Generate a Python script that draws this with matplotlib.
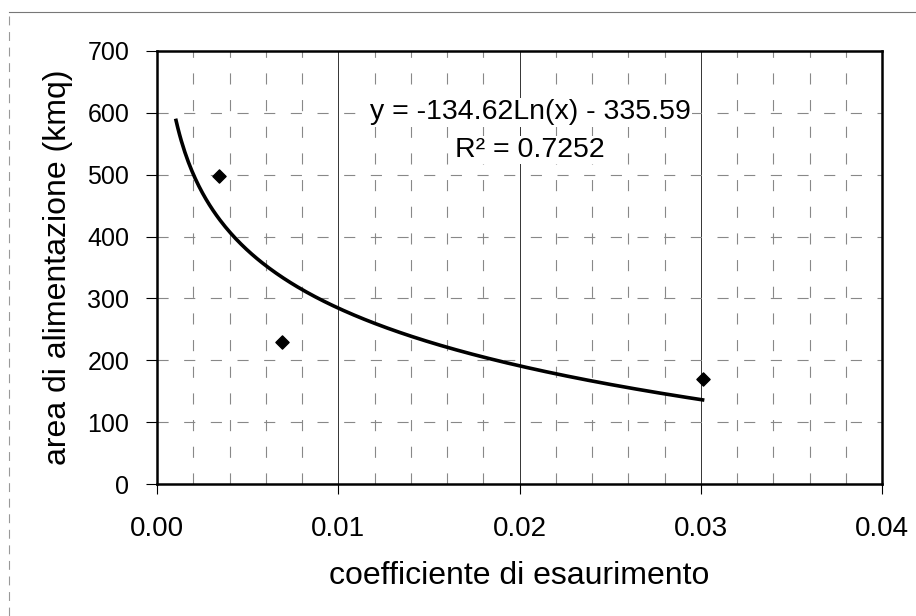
import numpy as np
import matplotlib.pyplot as plt
from matplotlib.lines import Line2D

plt.rcParams['font.family'] = ['Liberation Sans', 'DejaVu Sans']

# data points
coeff = [0.0034, 0.0069, 0.0301]
area = [498, 230, 169]

# trendline from the equation shown on the chart
a_coef, b_coef = -134.62, -335.59
r2 = 0.7252
x_fit_start, x_fit_end = 0.00105, 0.0301

x_ticks = [0.00, 0.01, 0.02, 0.03, 0.04]
y_ticks = [0, 100, 200, 300, 400, 500, 600, 700]

fig = plt.figure(figsize=(9.16, 6.16), dpi=100)
ax = fig.add_axes([157/916, 1 - 484/616, (882-157)/916, (484-51)/616])

ax.set_xlim(0, 0.04)
ax.set_ylim(0, 700)

# grid
for xv in np.arange(0.002, 0.04, 0.002):
    if abs(xv / 0.01 - round(xv / 0.01)) < 1e-6:
        ax.axvline(xv, color='#333333', lw=0.7, zorder=1)
    else:
        ax.axvline(xv, color='#888888', lw=0.8, ls=(0, (10, 14)), zorder=1)
for yv in y_ticks[1:-1]:
    ax.axhline(yv, color='#888888', lw=0.8, ls=(0, (10, 14)), zorder=1)

xs = np.linspace(x_fit_start, x_fit_end, 300)
ax.plot(xs, a_coef * np.log(xs) + b_coef, color='black', lw=2.6, zorder=3)
ax.scatter(coeff, area, marker='D', s=45, color='black', zorder=4)

eq = 'y = %.2fLn(x) - %.2f' % (a_coef, -b_coef)
ax.text(0.02058, 601, eq, fontsize=20.5, ha='center', va='center', zorder=5,
        bbox=dict(facecolor='white', edgecolor='none', pad=1))
ax.text(0.02058, 540, 'R\u00b2 = %.4f' % r2, fontsize=20.5, ha='center', va='center', zorder=5,
        bbox=dict(facecolor='white', edgecolor='none', pad=1))

ax.set_xticks(x_ticks)
ax.set_xticklabels(['%.2f' % v for v in x_ticks], fontsize=20)
ax.set_yticks(y_ticks)
ax.set_yticklabels([str(v) for v in y_ticks], fontsize=18)
ax.tick_params(axis='x', length=7, width=0.8, direction='out', pad=16)
ax.tick_params(axis='y', length=8, width=0.8, direction='out', pad=12)

for s in ax.spines.values():
    s.set_linewidth(1.8)

ax.set_xlabel('coefficiente di esaurimento', fontsize=23, labelpad=14)
ax.set_ylabel('area di alimentazione (kmq)', fontsize=23, labelpad=10)

# faint outer chart border
fig.add_artist(Line2D([9/916, 1], [1 - 12/616, 1 - 12/616], color='#777777', lw=0.8,
                      transform=fig.transFigure))
fig.add_artist(Line2D([9/916, 9/916], [0, 1 - 12/616], color='#999999', lw=0.8,
                      ls=(0, (8, 6)), transform=fig.transFigure))

fig.savefig('out.png', dpi=100)
